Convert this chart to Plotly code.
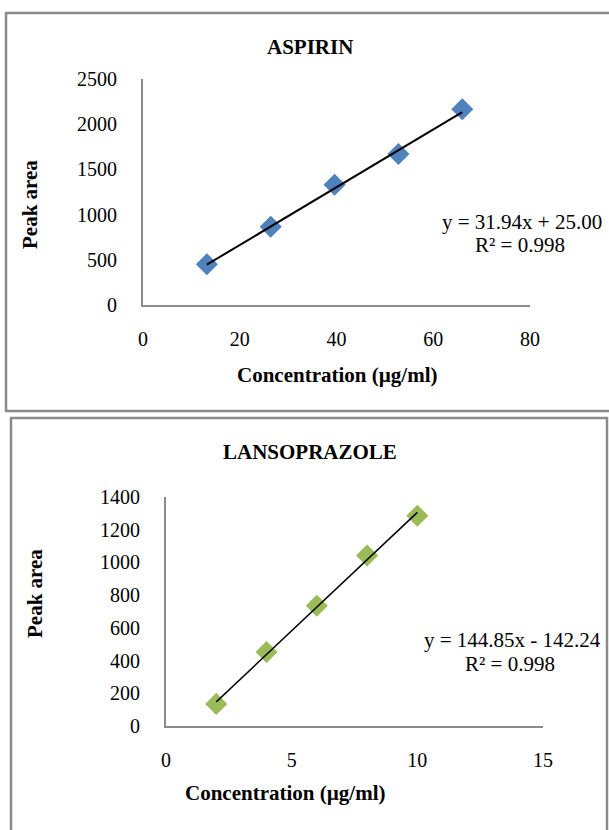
import plotly.graph_objects as go

W, H = 609, 830

# ---- data ----
asp_conc = [13.2, 26.4, 39.6, 52.8, 66.0]
asp_area = [450, 865, 1330, 1670, 2165]
asp_slope, asp_icpt = 31.94, 25.00

lan_conc = [2, 4, 6, 8, 10]
lan_area = [135, 452, 735, 1042, 1285]
lan_slope, lan_icpt = 144.85, -142.24

asp_xticks = [0, 20, 40, 60, 80]
asp_yticks = [0, 500, 1000, 1500, 2000, 2500]
lan_xticks = [0, 5, 10, 15]
lan_yticks = [0, 200, 400, 600, 800, 1000, 1200, 1400]

FONT = "Liberation Serif, Times New Roman, serif"
AXIS_GRAY = "#8a8a8a"

def px_x(p):
    return p / W

def px_y(p):
    return 1 - p / H

fig = go.Figure()

# Aspirin
fig.add_trace(go.Scatter(x=asp_conc, y=asp_area, mode="markers",
                         marker=dict(symbol="diamond", size=17, color="#4f81bd"),
                         xaxis="x", yaxis="y", showlegend=False))
fig.add_trace(go.Scatter(x=[asp_conc[0], asp_conc[-1]],
                         y=[asp_slope * asp_conc[0] + asp_icpt, asp_slope * asp_conc[-1] + asp_icpt],
                         mode="lines", line=dict(color="black", width=2),
                         xaxis="x", yaxis="y", showlegend=False))

# Lansoprazole
fig.add_trace(go.Scatter(x=lan_conc, y=lan_area, mode="markers",
                         marker=dict(symbol="diamond", size=17, color="#9bbb59"),
                         xaxis="x2", yaxis="y2", showlegend=False))
fig.add_trace(go.Scatter(x=[lan_conc[0], lan_conc[-1]],
                         y=[lan_slope * lan_conc[0] + lan_icpt, lan_slope * lan_conc[-1] + lan_icpt],
                         mode="lines", line=dict(color="black", width=1.5),
                         xaxis="x2", yaxis="y2", showlegend=False))

tickfont = dict(family=FONT, size=20, color="black")

def xaxis_cfg(domain, rng, ticks, anchor):
    return dict(domain=domain, range=rng, tickvals=ticks, showgrid=False, zeroline=False,
                showline=True, linecolor=AXIS_GRAY, linewidth=2, ticks="outside",
                ticklen=15, tickcolor="rgba(0,0,0,0)", tickfont=tickfont, anchor=anchor,
                automargin=False)

def yaxis_cfg(domain, rng, ticks, anchor):
    return dict(domain=domain, range=rng, tickvals=ticks, showgrid=False, zeroline=False,
                showline=True, linecolor=AXIS_GRAY, linewidth=2, ticks="outside",
                ticklen=20, tickcolor="rgba(0,0,0,0)", tickfont=tickfont, anchor=anchor,
                automargin=False)

def text(t, x, y, size=21, angle=0):
    return dict(text=t, xref="paper", yref="paper", x=px_x(x), y=px_y(y),
                xanchor="center", yanchor="middle", showarrow=False, textangle=angle,
                font=dict(family=FONT, size=size, color="black"))

fig.update_layout(
    template="none",
    width=W, height=H, margin=dict(l=0, r=0, t=0, b=0, pad=0),
    paper_bgcolor="white", plot_bgcolor="white",
    font=dict(family=FONT, color="black"),
    xaxis=xaxis_cfg([px_x(143), px_x(530)], [0, 80], asp_xticks, "y"),
    yaxis=yaxis_cfg([px_y(305), px_y(79)], [0, 2500], asp_yticks, "x"),
    xaxis2=xaxis_cfg([px_x(166), px_x(543)], [0, 15], lan_xticks, "y2"),
    yaxis2=yaxis_cfg([px_y(726), px_y(497)], [0, 1400], lan_yticks, "x2"),
    shapes=[
        dict(type="rect", xref="paper", yref="paper",
             x0=px_x(6), x1=px_x(620), y0=px_y(411), y1=px_y(13),
             line=dict(color=AXIS_GRAY, width=2.5), fillcolor="rgba(0,0,0,0)"),
        dict(type="rect", xref="paper", yref="paper",
             x0=px_x(11), x1=px_x(607), y0=px_y(850), y1=px_y(418),
             line=dict(color=AXIS_GRAY, width=2.5), fillcolor="rgba(0,0,0,0)"),
    ],
    annotations=[
        text("<b>ASPIRIN</b>", 310, 47),
        text("<b>LANSOPRAZOLE</b>", 310, 452),
        text("<b>Concentration (µg/ml)</b>", 337, 375),
        text("<b>Concentration (µg/ml)</b>", 285, 793),
        text("<b>Peak area</b>", 30, 205, angle=-90),
        text("<b>Peak area</b>", 35, 594, angle=-90),
        text("y = 31.94x + 25.00", 522, 222),
        text("R² = 0.998", 520, 245),
        text("y = 144.85x - 142.24", 512, 640),
        text("R² = 0.998", 510, 664),
    ],
)

fig.write_html("out.html", config={"displayModeBar": False},
               post_script="document.body.style.margin='0';document.body.style.overflow='hidden';")
